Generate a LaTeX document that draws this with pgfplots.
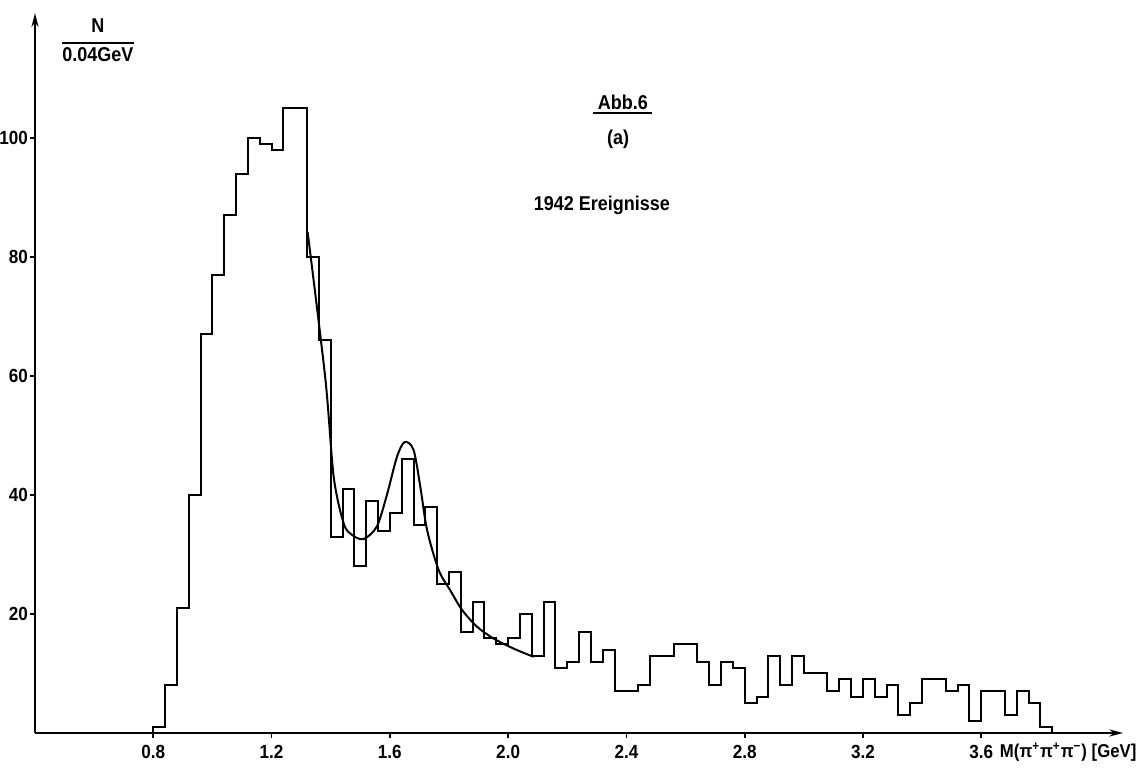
\documentclass[border=0pt]{standalone}
\usepackage{fontspec}
\setmainfont{Liberation Sans}[FakeStretch=0.9]
\usepackage{pgfplots}
\usepackage{pgfplotstable}
\pgfplotsset{compat=1.18}
\usetikzlibrary{arrows.meta}

% histogram: left bin edge (GeV), counts per 0.04 GeV
\pgfplotstableread{
x y
0.80 0
0.80 1
0.84 8
0.88 21
0.92 40
0.96 67
1.00 77
1.04 87
1.08 94
1.12 100
1.16 99
1.20 98
1.24 105
1.28 105
1.32 80
1.36 66
1.40 33
1.44 41
1.48 28
1.52 39
1.56 34
1.60 37
1.64 46
1.68 35
1.72 38
1.76 25
1.80 27
1.84 17
1.88 22
1.92 16
1.96 15
2.00 16
2.04 20
2.08 13
2.12 22
2.16 11
2.20 12
2.24 17
2.28 12
2.32 14
2.36 7
2.40 7
2.44 8
2.48 13
2.52 13
2.56 15
2.60 15
2.64 12
2.68 8
2.72 12
2.76 11
2.80 5
2.84 6
2.88 13
2.92 8
2.96 13
3.00 10
3.04 10
3.08 7
3.12 9
3.16 6
3.20 9
3.24 6
3.28 8
3.32 3
3.36 5
3.40 9
3.44 9
3.48 7
3.52 8
3.56 2
3.60 7
3.64 7
3.68 3
3.72 7
3.76 5
3.80 1
3.84 0
}\hist

% fitted curve
\pgfplotstableread{
x y
1.322 84.2
1.382 59.5
1.410 43.1
1.444 35.2
1.472 33.3
1.511 32.6
1.556 34.7
1.590 40.0
1.624 46.4
1.650 48.9
1.680 47.6
1.703 41.4
1.726 34.1
1.765 27.4
1.804 24.0
1.844 20.7
1.894 17.9
1.950 15.9
2.018 14.2
2.086 12.8
}\fit

\begin{document}
\begin{tikzpicture}[font=\bfseries\fontsize{10}{12}\selectfont]
\path[use as bounding box] (0,0) rectangle (571.5pt,387pt);
\begin{axis}[
  at={(17.5pt,20.5pt)}, anchor=south west,
  x=147.85pt, y=2.975pt,
  xmin=0.4, xmax=4.08, ymin=0, ymax=121,
  axis lines=left,
  axis line style={line width=1pt, -{Stealth[length=7pt,width=3.5pt]}},
  xtick={0.8,1.2,1.6,2.0,2.4,2.8,3.2,3.6},
  xticklabels={0.8,1.2,1.6,2.0,2.4,2.8,3.2,3.6},
  ytick={20,40,60,80,100},
  yticklabels={20,40,60,80,100},
  tick align=outside,
  major tick length=2.5pt,
  tick style={line width=0.9pt, black},
  tick label style={font=\bfseries\fontsize{9.5}{11}\selectfont},
  yticklabel style={xshift=2.5pt},
  xlabel={M(π\textsuperscript{+}π\textsuperscript{+}π\textsuperscript{−}) [GeV]},
  every axis x label/.style={at={(axis cs:3.662,-4.2)}, anchor=base west,
    inner sep=0pt, font=\bfseries\fontsize{9.3}{11}\selectfont},
  clip=false,
]
\addplot[const plot mark left, line width=1pt, black, no marks] table {\hist};
\addplot[smooth, line width=1pt, black, no marks] table {\fit};

\node[inner sep=0pt, align=center] at (axis cs:0.613,116.1)
  {\setlength\arrayrulewidth{1pt}\begin{tabular}{@{}c@{}}N\\[1pt]\hline\rule{0pt}{9pt}0.04GeV\end{tabular}};
\node[inner sep=0pt] (abb) at (axis cs:2.388,106) {Abb.6};
\draw[line width=1pt] ([xshift=-2pt,yshift=-2pt]abb.base west) -- ([xshift=2pt,yshift=-2pt]abb.base east);
\node[inner sep=0pt] at (axis cs:2.372,99.8) {(a)};
\node[inner sep=0pt] at (axis cs:2.317,88.6) {1942 Ereignisse};
\end{axis}
\end{tikzpicture}
\end{document}
